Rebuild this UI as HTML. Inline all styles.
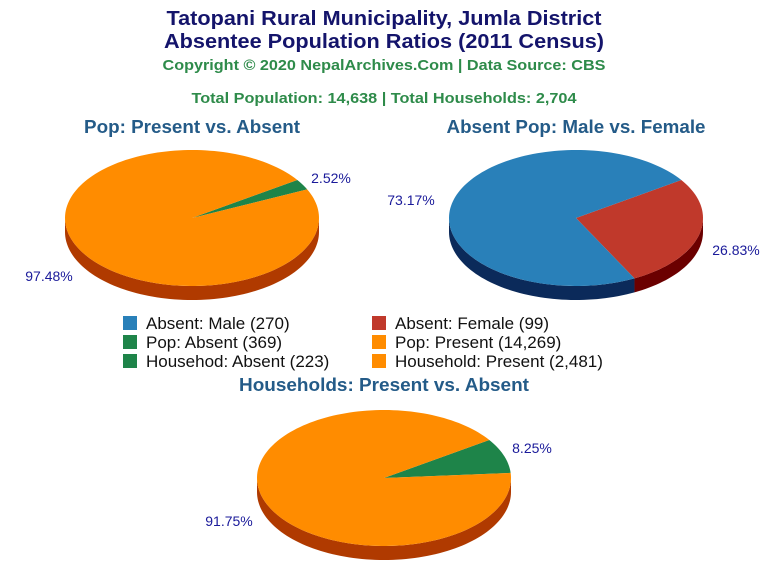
<!DOCTYPE html>
<html><head><meta charset="utf-8"><style>
html,body{margin:0;padding:0;background:#fff;}
svg{display:block;font-family:"Liberation Sans",Arial,sans-serif;}
</style></head><body>
<svg id="chart" width="768" height="576" viewBox="0 0 768 576">
<text x="384" y="25" text-anchor="middle" font-weight="bold" font-size="20" fill="#14146b" textLength="435" lengthAdjust="spacingAndGlyphs">Tatopani Rural Municipality, Jumla District</text>
<text x="384" y="48" text-anchor="middle" font-weight="bold" font-size="20" fill="#14146b" textLength="440" lengthAdjust="spacingAndGlyphs">Absentee Population Ratios (2011 Census)</text>
<text x="384" y="70" text-anchor="middle" font-weight="bold" font-size="15" fill="#2e8b4a" textLength="443" lengthAdjust="spacingAndGlyphs">Copyright © 2020 NepalArchives.Com | Data Source: CBS</text>
<text x="384" y="103" text-anchor="middle" font-weight="bold" font-size="15" fill="#2e8b4a" textLength="385" lengthAdjust="spacingAndGlyphs">Total Population: 14,638 | Total Households: 2,704</text>
<text x="192" y="133" text-anchor="middle" font-weight="bold" font-size="18" fill="#245b88" textLength="216" lengthAdjust="spacingAndGlyphs">Pop: Present vs. Absent</text>
<text x="576" y="133" text-anchor="middle" font-weight="bold" font-size="18" fill="#245b88" textLength="259" lengthAdjust="spacingAndGlyphs">Absent Pop: Male vs. Female</text>
<text x="384" y="391" text-anchor="middle" font-weight="bold" font-size="18" fill="#245b88" textLength="290" lengthAdjust="spacingAndGlyphs">Households: Present vs. Absent</text>
<g id="pies"></g>
<g id="legend"></g>
</svg>
<script>
const pie1Labels=["Pop: Absent","Pop: Present"];
const pie1Values=[369,14269];
const pie2Labels=["Absent: Female","Absent: Male"];
const pie2Values=[99,270];
const pie3Labels=["Househod: Absent","Household: Present"];
const pie3Values=[223,2481];
const legendLabels=["Absent: Male (270)","Absent: Female (99)","Pop: Absent (369)","Pop: Present (14,269)","Househod: Absent (223)","Household: Present (2,481)"];

const NS="http://www.w3.org/2000/svg";
const pies=document.getElementById('pies');
const RX=127,RY=68,DEPTH=14,START=-34;
function pt(cx,cy,t,dy){const r=t*Math.PI/180;return [cx+RX*Math.cos(r),cy+RY*Math.sin(r)+(dy||0)];}
function arcPts(cx,cy,a,b,dy){const p=[];const n=Math.max(2,Math.ceil(Math.abs(b-a)/2));for(let i=0;i<=n;i++){p.push(pt(cx,cy,a+(b-a)*i/n,dy));}return p;}
function toD(p){return p.map((q,i)=>(i?'L':'M')+q[0].toFixed(2)+','+q[1].toFixed(2)).join('');}
function drawPie(name,cx,cy,values,labels,colors,sides,labelPos){
  const total=values.reduce((a,b)=>a+b,0);
  let a=START;const segs=[];
  values.forEach((v,i)=>{const b=a+v/total*360;segs.push([a,b]);a=b;});
  // sides
  segs.forEach((s,i)=>{
    for(const off of [0,360]){
      const lo=Math.max(s[0],0+off),hi=Math.min(s[1],180+off);
      if(hi>lo){
        const top=arcPts(cx,cy,lo,hi,0),bot=arcPts(cx,cy,hi,lo,DEPTH);
        const p=document.createElementNS(NS,'path');
        p.setAttribute('d',toD(top.concat(bot))+'Z');
        p.setAttribute('fill',sides[i]);
        
        
        pies.appendChild(p);
      }
    }
  });
  segs.forEach((s,i)=>{
    const p=document.createElementNS(NS,'path');
    p.setAttribute('d','M'+cx+','+cy+toD(arcPts(cx,cy,s[0],s[1],0)).replace('M','L')+'Z');
    p.setAttribute('fill',colors[i]);
    
    
    pies.appendChild(p);
    const t=document.createElementNS(NS,'text');
    t.setAttribute('x',labelPos[i][0]);t.setAttribute('y',labelPos[i][1]);
    t.setAttribute('text-anchor','middle');t.setAttribute('font-size','14');t.setAttribute('fill','#1a1a9a');
    t.textContent=(values[i]/total*100).toFixed(2)+'%';
    
    
    pies.appendChild(t);
  });
}
const ORANGE='#ff8c00',GREEN='#1e8449',BLUE='#2980b9',RED='#c0392b';
drawPie('pie1',192,218,pie1Values,pie1Labels,[GREEN,ORANGE],['#0f5a2c','#b03a00'],[[331,183],[49,281]]);
drawPie('pie2',576,218,pie2Values,pie2Labels,[RED,BLUE],['#6b0000','#0b2a5a'],[[736,255],[411,205]]);
drawPie('pie3',384,478,pie3Values,pie3Labels,[GREEN,ORANGE],['#0f5a2c','#b03a00'],[[532,453],[229,526]]);

const legendColors=[BLUE,RED,GREEN,ORANGE,GREEN,ORANGE];
const lg=document.getElementById('legend');
legendLabels.forEach((lab,i)=>{
  const col=i%2,row=Math.floor(i/2);
  const x=col?372:123,y=323+row*19;
  const r=document.createElementNS(NS,'rect');
  r.setAttribute('x',x);r.setAttribute('y',y-7);r.setAttribute('width',14);r.setAttribute('height',14);r.setAttribute('fill',legendColors[i]);
  
  
  lg.appendChild(r);
  const t=document.createElementNS(NS,'text');
  t.setAttribute('x',x+23);t.setAttribute('y',y+6);t.setAttribute('font-size','17');t.setAttribute('fill','#111');
  t.textContent=lab;
  
  
  lg.appendChild(t);
});
</script>
</body></html>
